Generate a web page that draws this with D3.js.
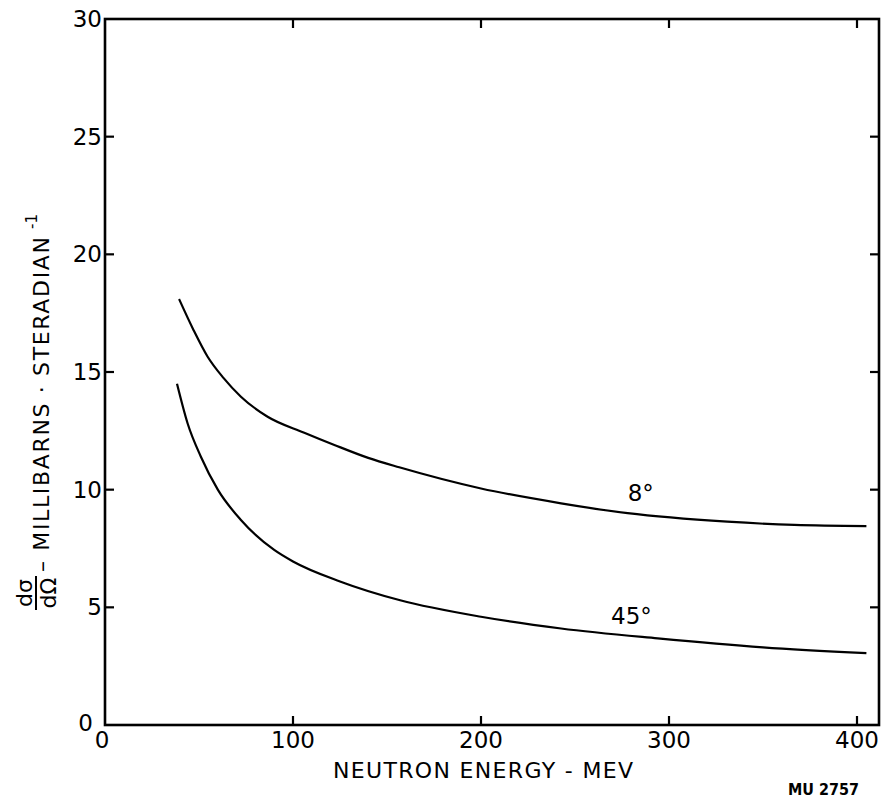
<!DOCTYPE html>
<html>
<meta charset="UTF-8">
    <head>
        <script src="https://d3js.org/d3.v7.min.js"></script>
        <style>
            body { margin: 0; background: white; }
            text { font-family: "DejaVu Sans", sans-serif; fill: black; }
        </style>
    </head>
    <body>
    </body>
    <script>
        // neutron energy (MeV) and d sigma / d Omega (mb/sr)
        const energy8 = [39.4, 47, 54.6, 63, 72.3, 86.5, 106, 122, 140, 156.5, 200, 242.6, 278, 331, 366.7, 405];
        const sigma8  = [18.1, 16.8, 15.65, 14.75, 13.95, 13.1, 12.42, 11.9, 11.35, 10.95, 10.05, 9.42, 9.0, 8.64, 8.5, 8.45];

        const energy45 = [38.3, 44, 51, 60, 72.3, 90, 100, 125, 157, 200, 242.6, 294, 350, 405];
        const sigma45  = [14.5, 12.8, 11.4, 10.0, 8.71, 7.44, 6.95, 6.1, 5.3, 4.6, 4.1, 3.68, 3.3, 3.05];

        const curveLabels = ["8°", "45°"];
        const labelEnergy = [285, 280];
        const labelSigma = [9.86, 4.65];

        const xTicks = [0, 100, 200, 300, 400];
        const yTicks = [0, 5, 10, 15, 20, 25, 30];

        let width = 884, height = 802;
        let svg = d3.select("body").append("svg")
            .attr("width", width)
            .attr("height", height);

        let x = d3.scaleLinear().domain([0, 400]).range([105, 857]);
        let y = d3.scaleLinear().domain([0, 30]).range([725, 19]);
        let xMax = 411.7;

        // frame
        svg.append("rect")
            .attr("x", x(0)).attr("y", y(30))
            .attr("width", x(xMax) - x(0)).attr("height", y(0) - y(30))
            .attr("fill", "none").attr("stroke", "black").attr("stroke-width", 2.6);

        // inward ticks on all four sides
        let tl = 9;
        let g = svg.append("g").attr("stroke", "black").attr("stroke-width", 2.2);
        for (let t of xTicks.slice(1)) {
            g.append("line").attr("x1", x(t)).attr("x2", x(t)).attr("y1", y(0)).attr("y2", y(0) - tl);
            g.append("line").attr("x1", x(t)).attr("x2", x(t)).attr("y1", y(30)).attr("y2", y(30) + tl);
        }
        for (let t of yTicks.slice(1, -1)) {
            g.append("line").attr("x1", x(0)).attr("x2", x(0) + tl).attr("y1", y(t)).attr("y2", y(t));
            g.append("line").attr("x1", x(xMax)).attr("x2", x(xMax) - tl).attr("y1", y(t)).attr("y2", y(t));
        }

        // tick labels
        svg.selectAll(".xl").data(xTicks).join("text")
            .attr("x", d => d == 0 ? x(d) - 3 : x(d))
            .attr("y", 748)
            .attr("text-anchor", "middle")
            .attr("font-size", 23)
            .text(d => d);

        svg.selectAll(".yl").data(yTicks).join("text")
            .attr("x", d => d == 0 ? x(0) - 12 : x(0) - 3)
            .attr("y", d => d == 0 ? y(d) + 6 : y(d) + 8)
            .attr("text-anchor", "end")
            .attr("font-size", 23)
            .text(d => d);

        // curves
        let line = d3.line()
            .x(d => x(d[0]))
            .y(d => y(d[1]))
            .curve(d3.curveMonotoneX);

        let series = [d3.zip(energy8, sigma8), d3.zip(energy45, sigma45)];
        svg.selectAll(".curve").data(series).join("path")
            .attr("d", line)
            .attr("fill", "none")
            .attr("stroke", "black")
            .attr("stroke-width", 2.2);

        svg.selectAll(".cl").data(curveLabels).join("text")
            .attr("x", (d, i) => x(labelEnergy[i]))
            .attr("y", (d, i) => y(labelSigma[i]) + 8)
            .attr("text-anchor", "middle")
            .attr("font-size", 23)
            .text(d => d);

        // x axis title
        svg.append("text")
            .attr("x", 333).attr("y", 778)
            .attr("font-size", 22)
            .attr("textLength", 300)
            .attr("lengthAdjust", "spacing")
            .text("NEUTRON ENERGY - MEV");

        svg.append("text")
            .attr("x", 788).attr("y", 795)
            .attr("font-size", 16)
            .attr("font-weight", "bold")
            .attr("textLength", 71)
            .attr("lengthAdjust", "spacingAndGlyphs")
            .text("MU 2757");

        // y axis title: fraction d sigma / d Omega, then the units
        let fy = 593;
        svg.append("text")
            .attr("transform", `translate(32,${fy}) rotate(-90)`)
            .attr("text-anchor", "middle")
            .attr("font-size", 22)
            .text("dσ");
        svg.append("line")
            .attr("x1", 36).attr("x2", 36).attr("y1", fy + 17).attr("y2", fy - 17)
            .attr("stroke", "black").attr("stroke-width", 2);
        svg.append("text")
            .attr("transform", `translate(56,${fy}) rotate(-90)`)
            .attr("text-anchor", "middle")
            .attr("font-size", 22)
            .text("dΩ");

        svg.append("text")
            .attr("transform", "translate(49,572) rotate(-90)")
            .attr("font-size", 22)
            .attr("textLength", 335)
            .attr("lengthAdjust", "spacing")
            .text("– MILLIBARNS · STERADIAN");
        svg.append("text")
            .attr("transform", "translate(37,229) rotate(-90)")
            .attr("font-size", 15)
            .text("-1");
    </script>
</html>
